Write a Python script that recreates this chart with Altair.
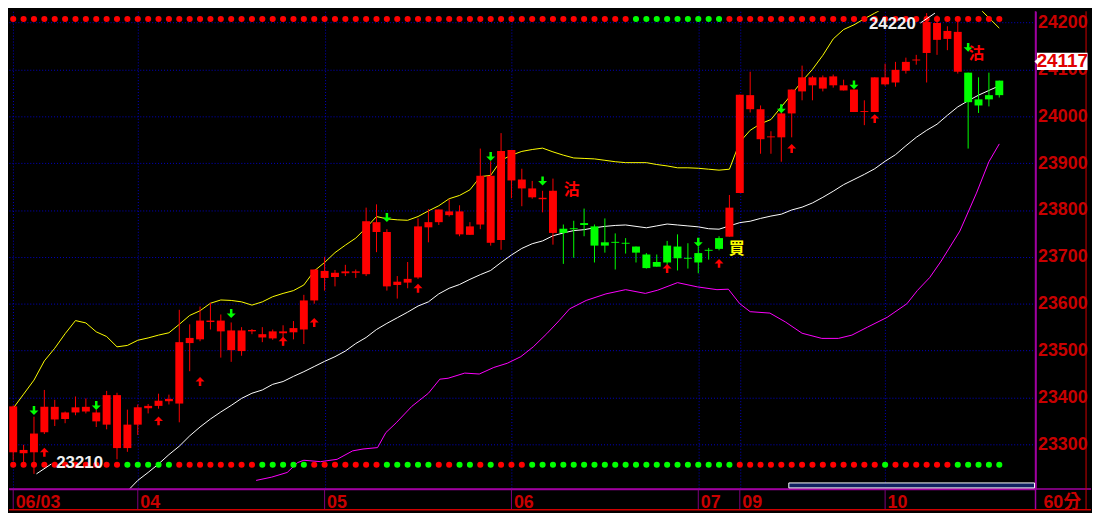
import altair as alt
import pandas as pd

# ---------------- data ----------------
bar_idx = list(range(96))
opens = [23283, 23281, 23283, 23326, 23353, 23354, 23368, 23370, 23349, 23342,
         23292, 23292, 23342, 23377, 23382, 23392, 23387, 23516, 23524, 23561,
         23541, 23501, 23499, 23541, 23528, 23526, 23537, 23539, 23545, 23607,
         23655, 23657, 23665, 23666, 23663, 23753, 23637, 23640, 23645, 23656,
         23763, 23774, 23789, 23748, 23747, 23769, 23730, 23736, 23863, 23846,
         23827, 23823, 23751, 23760, 23761, 23772, 23765, 23731, 23732, 23730,
         23722, 23705, 23689, 23724, 23722, 23698, 23708, 23715, 23740, 23743,
         23836, 24015, 23951, 23955, 23955, 24006, 24053, 24066, 24059, 24066,
         24055, 24009, 24009, 24009, 24068, 24072, 24097, 24119, 24135, 24163,
         24165, 24095, 24093, 24036, 24045, 24076]
closes = [23381, 23288, 23323, 23380, 23380, 23368, 23379, 23380, 23368, 23405,
          23405, 23342, 23379, 23382, 23393, 23397, 23518, 23527, 23564, 23564,
          23564, 23543, 23543, 23544, 23535, 23541, 23541, 23548, 23607, 23673,
          23670, 23666, 23669, 23669, 23776, 23774, 23753, 23647, 23653, 23765,
          23774, 23801, 23797, 23797, 23765, 23873, 23873, 23926, 23928, 23865,
          23846, 23826, 23841, 23751, 23759, 23768, 23724, 23724, 23730, 23728,
          23709, 23676, 23679, 23688, 23697, 23696, 23688, 23713, 23717, 23805,
          24046, 24045, 24015, 23957, 24006, 24057, 24083, 24083, 24083, 24085,
          24066, 24057, 24011, 24083, 24083, 24099, 24116, 24121, 24201, 24199,
          24182, 24180, 24030, 24023, 24036, 24045]
highs = [23383, 23299, 23359, 23416, 23395, 23370, 23402, 23398, 23374, 23414,
         23410, 23374, 23385, 23386, 23408, 23406, 23587, 23556, 23594, 23602,
         23577, 23560, 23550, 23546, 23550, 23545, 23554, 23563, 23619, 23673,
         23700, 23672, 23683, 23673, 23805, 23812, 23759, 23659, 23689, 23782,
         23802, 23801, 23823, 23810, 23774, 23931, 23904, 23964, 23928, 23888,
         23862, 23841, 23867, 23769, 23777, 23803, 23769, 23782, 23750, 23740,
         23722, 23708, 23705, 23734, 23748, 23729, 23722, 23719, 23744, 23832,
         24046, 24095, 24023, 23968, 24025, 24057, 24108, 24086, 24087, 24089,
         24078, 24057, 24034, 24083, 24112, 24116, 24125, 24131, 24220, 24215,
         24192, 24213, 24093, 24083, 24093, 24076]
lows = [23265, 23261, 23237, 23322, 23339, 23345, 23362, 23366, 23337, 23332,
        23268, 23284, 23320, 23366, 23376, 23385, 23347, 23456, 23520, 23545,
        23485, 23476, 23489, 23535, 23518, 23523, 23510, 23524, 23514, 23600,
        23628, 23637, 23659, 23655, 23659, 23710, 23628, 23611, 23633, 23653,
        23731, 23768, 23786, 23744, 23747, 23759, 23724, 23715, 23825, 23808,
        23824, 23795, 23726, 23685, 23698, 23744, 23688, 23709, 23673, 23707,
        23688, 23675, 23679, 23683, 23671, 23675, 23665, 23694, 23714, 23743,
        23836, 24008, 23920, 23920, 23903, 23955, 24034, 24034, 24053, 24061,
        24055, 24009, 23981, 24009, 24065, 24063, 24091, 24110, 24072, 24131,
        24141, 24091, 23931, 24007, 24021, 24040]

upper_val = [23377, 23407, 23437, 23478, 23505, 23536, 23564, 23559, 23540, 23530,
             23508, 23511, 23522, 23527, 23533, 23538, 23556, 23575, 23585, 23601,
             23608, 23607, 23604, 23597, 23604, 23615, 23622, 23628, 23640, 23670,
             23688, 23709, 23725, 23740, 23762, 23786, 23781, 23779, 23778, 23786,
             23798, 23809, 23824, 23831, 23843, 23871, 23874, 23906, 23917, 23925,
             23929, 23932, 23924, 23917, 23911, 23910, 23909, 23906, 23903, 23901,
             23901, 23901, 23897, 23894, 23890, 23890, 23889, 23887, 23885, 23887,
             23945, 23970, 23984, 23993, 24020, 24047, 24075, 24100, 24130, 24165,
             24185, 24195, 24208, 24220, 24232, 24250, 24265, 24275, 24283, 24287,
             24283, 24270, 24252, 24232, 24210, 24188]

mid_idx = list(range(11, 96))
mid_val = [23200, 23223, 23240, 23258, 23278, 23296, 23318, 23337, 23354, 23369,
           23383, 23398, 23409, 23416, 23428, 23434, 23445, 23455, 23466, 23477,
           23487, 23499, 23515, 23528, 23545, 23558, 23570, 23582, 23595, 23604,
           23621, 23633, 23641, 23652, 23662, 23671, 23688, 23704, 23718, 23728,
           23734, 23745, 23751, 23756, 23758, 23762, 23765, 23767, 23768, 23765,
           23762, 23766, 23770, 23768, 23766, 23764, 23760, 23759, 23766, 23773,
           23776, 23782, 23787, 23791, 23800, 23806, 23815, 23827, 23840, 23854,
           23865, 23876, 23888, 23904, 23918, 23937, 23955, 23970, 23983, 24002,
           24020, 24033, 24045, 24055, 24065]

lower_idx = [23.4, 24.9, 26.4, 27.4, 28.0, 29.6, 31.2, 32.7, 33.7, 35.1,
             35.9, 36.9, 38.4, 40.0, 41.1, 41.9, 43.5, 44.9, 46.3, 47.6,
             48.9, 50.1, 51.4, 52.6, 53.6, 55.2, 57.1, 59.0, 60.9, 62.1,
             64.0, 65.9, 67.8, 68.9, 70.0, 71.0, 72.9, 74.4, 76.0, 77.9,
             79.5, 80.8, 82.3, 84.2, 86.1, 87.1, 88.3, 89.4, 91.2, 92.8,
             94.0, 95.0]
lower_val = [23223, 23230, 23240, 23261, 23266, 23263, 23268, 23286, 23290, 23293,
             23325, 23346, 23381, 23409, 23439, 23441, 23452, 23450, 23464, 23473,
             23487, 23508, 23536, 23564, 23589, 23607, 23621, 23630, 23622, 23629,
             23645, 23636, 23630, 23631, 23600, 23583, 23580, 23561, 23537, 23526,
             23526, 23533, 23550, 23571, 23600, 23628, 23656, 23691, 23755, 23836,
             23903, 23941]

top_signal = "r" * 60 + "g" * 9 + "r" * 27
bottom_signal = ("r" * 11 + "g" * 5 + "r" * 8 + "g" * 5 + "r" * 7 + "g" * 5 + "r" * 2 +
                 "g" * 2 + "r" + "g" + "r" * 3 + "g" * 20 + "r" * 14 + "g" + "r" * 6 + "g" * 5)

down_idx = [2, 8, 21, 36, 46, 51, 66, 74, 81, 92]
down_px = [23372, 23383, 23579, 23784, 23914, 23862, 23731, 24016, 24067, 24147]
up_idx = [3, 14, 18, 26, 29, 39, 63, 68, 75, 83]
up_px = [23283, 23350, 23434, 23520, 23560, 23633, 23675, 23686, 23931, 23995]

sig_text = ["沽", "沽", "買"]
sig_idx = [53.8, 92.8, 69.7]
sig_px = [23842, 24133, 23717]
sig_color = ["#ff0000", "#ff0000", "#ffff00"]

ext_text = ["23210", "24220"]
ext_idx = [6.4, 84.7]
ext_px = [23259, 24196]
lead_i1 = [2.24, 87.4]
lead_p1 = [23237, 24199]
lead_i2 = [3.67, 88.8]
lead_p2 = [23258, 24220]

last_price = 24117
grid_prices = [23300, 23400, 23500, 23600, 23700, 23800, 23900, 24000, 24100, 24200]
day_idx = [0, 12, 30, 48, 66, 70, 84]
day_lbl = ["06/03", "04", "05", "06", "07", "09", "10"]
period_lbl = "60分"

# ---------------- styling ----------------
W, H = 1036, 482
RED, GREEN = "#ff0000", "#00ff00"
AXRED = "#c80000"
GRID = "#0000c8"
MAG = "#a000a0"
FONT = "Liberation Sans"

xscale = alt.Scale(domain=[-0.407, 98.49], nice=False, zero=False, padding=0)
yscale = alt.Scale(domain=[23204.9, 24223.9], nice=False, zero=False, padding=0)

lbl_expr = " : ".join(f"datum.value == {v} ? '{t}'" for v, t in zip(day_idx, day_lbl)) + " : ''"

xaxis = alt.Axis(values=day_idx, labelExpr=lbl_expr, grid=True, gridColor=GRID,
                 gridDash=[1, 2], gridWidth=1, ticks=False, domain=True, domainColor=MAG,
                 domainWidth=1.5, labelColor=AXRED, labelFont=FONT, labelFontSize=18,
                 labelFontWeight="bold", labelAlign="left", labelBaseline="alphabetic",
                 labelPadding=19, labelOffset=2, labelFlush=False, labelOverlap=False,
                 title=None)
yaxis = alt.Axis(orient="right", values=grid_prices, format="d", grid=True, gridColor=GRID,
                 gridDash=[1, 2], gridWidth=1, ticks=False, domain=True, domainColor=MAG,
                 domainWidth=1.5, labelColor=AXRED, labelFont=FONT, labelFontSize=18,
                 labelFontWeight="bold", labelAlign="left", labelBaseline="middle",
                 labelPadding=2, labelFlush=False, labelOverlap=False, title=None)


def X(f):
    return alt.X(f, type="quantitative", scale=xscale, axis=xaxis, title=None)


def Y(f):
    return alt.Y(f, type="quantitative", scale=yscale, axis=yaxis, title=None)


candles = pd.DataFrame({"i": bar_idx, "o": opens, "h": highs, "l": lows, "c": closes})
updown = alt.condition("datum.c >= datum.o", alt.value(RED), alt.value(GREEN))

wicks = alt.Chart(candles).mark_rule(strokeWidth=1).encode(x=X("i"), y=Y("l"), y2="h", color=updown)
bodies = alt.Chart(candles).mark_bar(size=8).encode(x=X("i"), y=Y("o"), y2="c", color=updown)

upper = alt.Chart(pd.DataFrame({"i": bar_idx, "v": upper_val})).mark_line(
    color="#ffff00", strokeWidth=1, clip=True).encode(x=X("i"), y=Y("v"))
middle = alt.Chart(pd.DataFrame({"i": mid_idx, "v": mid_val})).mark_line(
    color="#ffffff", strokeWidth=1, clip=True).encode(x=X("i"), y=Y("v"))
lower = alt.Chart(pd.DataFrame({"i": lower_idx, "v": lower_val})).mark_line(
    color="#ff00ff", strokeWidth=1, clip=True).encode(x=X("i"), y=Y("v"))

dots_df = pd.DataFrame({
    "i": bar_idx,
    "top": [RED if s == "r" else GREEN for s in top_signal],
    "bot": [RED if s == "r" else GREEN for s in bottom_signal],
})
top_dots = alt.Chart(dots_df).mark_circle(size=38, opacity=1).encode(
    x=X("i"), y=alt.value(7.7), color=alt.Color("top:N", scale=None))
bot_dots = alt.Chart(dots_df).mark_circle(size=38, opacity=1).encode(
    x=X("i"), y=alt.value(457.7), color=alt.Color("bot:N", scale=None))

DOWN_PATH = "M-0.28,-1 L0.28,-1 L0.28,0 L1,0 L0,1 L-1,0 L-0.28,0 Z"
UP_PATH = "M0,-1 L1,0 L0.28,0 L0.28,1 L-0.28,1 L-0.28,0 L-1,0 Z"
down_arrows = alt.Chart(pd.DataFrame({"i": down_idx, "p": down_px})).mark_point(
    shape=DOWN_PATH, filled=True, size=81, color=GREEN, opacity=1, strokeWidth=0).encode(
    x=X("i"), y=Y("p"))
up_arrows = alt.Chart(pd.DataFrame({"i": up_idx, "p": up_px})).mark_point(
    shape=UP_PATH, filled=True, size=81, color=RED, opacity=1, strokeWidth=0).encode(
    x=X("i"), y=Y("p"))

signals = alt.Chart(pd.DataFrame({"i": sig_idx, "p": sig_px, "t": sig_text, "col": sig_color})).mark_text(
    font="Noto Sans CJK TC", fontSize=16, fontWeight="bold", baseline="middle", align="center").encode(
    x=X("i"), y=Y("p"), text="t:N", color=alt.Color("col:N", scale=None))

extremes = alt.Chart(pd.DataFrame({"i": ext_idx, "p": ext_px, "t": ext_text})).mark_text(
    font=FONT, fontSize=17, fontWeight="bold", color="#f0f0f0", baseline="middle", align="center").encode(
    x=X("i"), y=Y("p"), text="t:N")
leaders = alt.Chart(pd.DataFrame({"i1": lead_i1, "p1": lead_p1, "i2": lead_i2, "p2": lead_p2})).mark_rule(
    color="#ffffff", strokeWidth=1).encode(x=X("i1"), y=Y("p1"), x2="i2", y2="p2")

one = pd.DataFrame({"p": [last_price]})
BOX_PATH = "M-1,-0.34 L1,-0.34 L1,0.34 L-1,0.34 L-1,0.1 L-1.1,0 L-1,-0.1 Z"
price_box = alt.Chart(one).mark_point(shape=BOX_PATH, filled=True, size=2600, color="#ffffff",
                                      opacity=1, strokeWidth=0).encode(x=alt.value(1063), y=Y("p"))
price_txt = alt.Chart(one).mark_text(font=FONT, fontSize=19, fontWeight="bold", color="#e00000",
                                     align="center", baseline="middle").encode(
    x=alt.value(1063), y=Y("p"), text=alt.Text("p:Q", format="d"))

dummy = pd.DataFrame({"a": [0]})
day_df = pd.DataFrame({"i": day_idx})
separators = alt.Chart(day_df).mark_rule(color="#800080", strokeWidth=1).encode(
    x=X("i"), y=alt.value(H), y2=alt.value(H + 21))
axis_ext = alt.Chart(dummy).mark_rule(color=MAG, strokeWidth=1.5).encode(
    x=alt.value(W), y=alt.value(0), y2=alt.value(H + 21))
bottom_line = alt.Chart(dummy).mark_rule(color=MAG, strokeWidth=1.5).encode(
    x=alt.value(0), x2=alt.value(1092), y=alt.value(H))
base_line = alt.Chart(dummy).mark_rule(color="#d00000", strokeWidth=1.5).encode(
    x=alt.value(0), x2=alt.value(1092), y=alt.value(503))
right_edge = alt.Chart(dummy).mark_rule(color="#d00000", strokeWidth=1).encode(
    x=alt.value(1087), y=alt.value(0), y2=alt.value(503))
scroll = alt.Chart(dummy).mark_rect(fill="#102060", stroke="#ffffff", strokeWidth=1).encode(
    x=alt.value(787), x2=alt.value(1035), y=alt.value(476), y2=alt.value(481))
period = alt.Chart(pd.DataFrame({"t": [period_lbl]})).mark_text(
    font="Liberation Sans, Noto Sans CJK TC", fontSize=18, fontWeight="bold", color=AXRED,
    align="left", baseline="alphabetic").encode(x=alt.value(W + 8), y=alt.value(H + 19), text="t:N")

chart = alt.layer(
    upper, middle, lower, wicks, bodies, top_dots, bot_dots, down_arrows, up_arrows,
    signals, leaders, extremes, separators, axis_ext, bottom_line, base_line, right_edge,
    scroll, period, price_box, price_txt,
).properties(width=W, height=H, padding=0, background="#000000").configure_view(
    stroke=None, fill="#000000")

chart.save("out.html", embed_options={"renderer": "svg", "actions": False})
